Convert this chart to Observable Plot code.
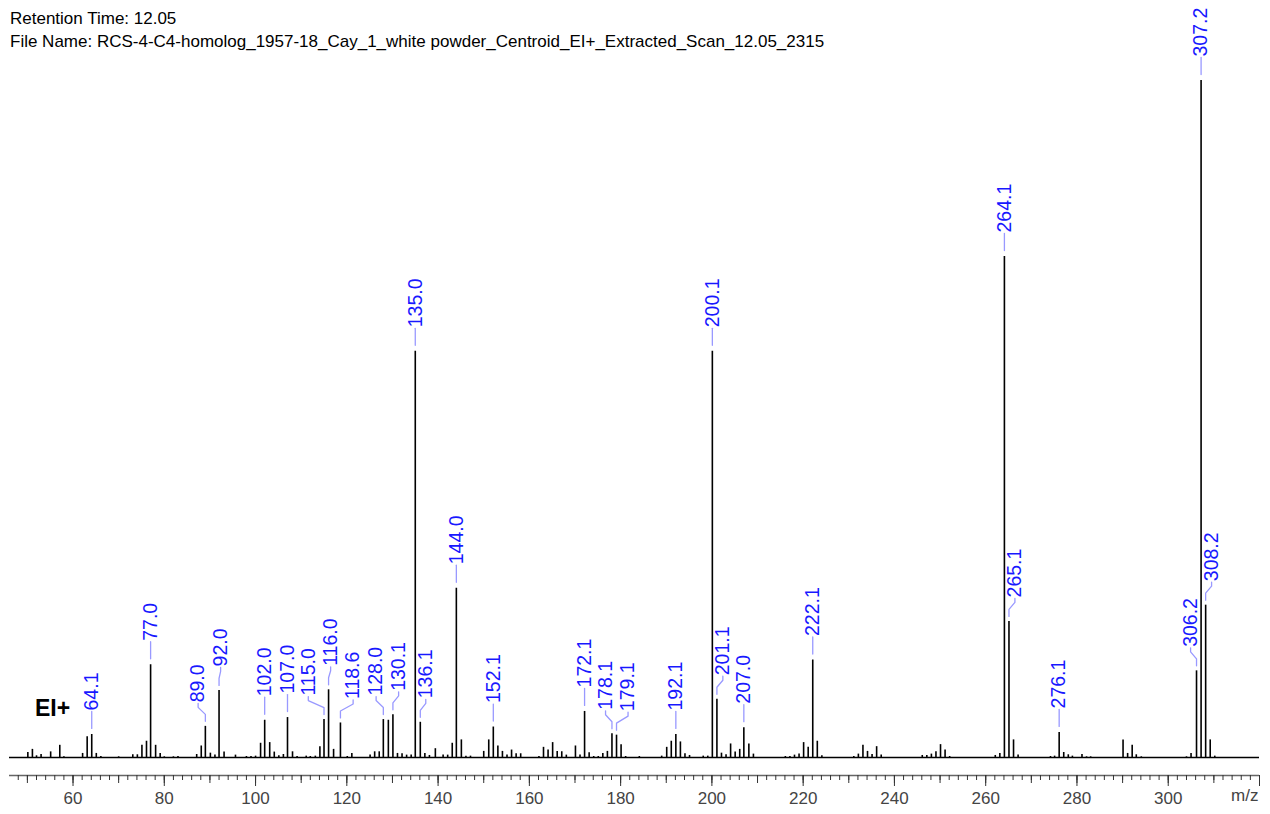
<!DOCTYPE html>
<html><head><meta charset="utf-8">
<script src="https://cdn.jsdelivr.net/npm/d3@7"></script>
<script src="https://cdn.jsdelivr.net/npm/@observablehq/plot@0.6"></script>
<style>
body{margin:0;background:#fff;font-family:Arial,"Liberation Sans",sans-serif;}
#wrap{position:relative;width:1270px;height:814px;overflow:hidden;}
#title{position:absolute;left:10px;top:7px;font-size:17px;line-height:23px;color:#000;white-space:nowrap;}
#ei{position:absolute;left:35px;top:697px;font-size:23px;line-height:23px;font-weight:bold;color:#000;}
#chart svg{display:block;}
</style></head><body>
<div id="wrap"><div id="chart"></div>
<div id="title">Retention Time: 12.05<br>File Name: RCS-4-C4-homolog_1957-18_Cay_1_white powder_Centroid_EI+_Extracted_Scan_12.05_2315</div>
<div id="ei">EI+</div></div>
<script>
// Labelled peaks (m/z, relative intensity %)
const labelMz  = [64.1, 77.0, 89.0, 92.0, 102.0, 107.0, 115.0, 116.0, 118.6, 128.0, 130.1, 135.0, 136.1, 144.0, 152.1, 172.1, 178.1, 179.1, 192.1, 200.1, 201.1, 207.0, 222.1, 264.1, 265.1, 276.1, 306.2, 307.2, 308.2];
const labelInt = [3.4, 13.7, 4.6, 9.9, 5.5, 5.9, 5.6, 10.0, 5.1, 5.6, 6.3, 60.0, 5.2, 25.0, 4.5, 6.8, 3.5, 3.3, 3.4, 60.0, 8.6, 4.4, 14.4, 74.0, 20.1, 3.7, 12.8, 100, 22.5];
// Unlabelled minor peaks
const minorMz  = [50.1, 51.1, 52.0, 53.0, 55.1, 57.1, 58.0, 62.1, 63.1, 65.1, 66.1, 70.0, 73.1, 74.1, 75.1, 76.1, 78.1, 79.1, 80.0, 82.0, 83.0, 87.1, 88.1, 90.1, 91.1, 93.1, 95.6, 98.0, 99.0, 100.0, 101.1, 103.1, 104.1, 105.1, 106.1, 108.1, 109.1, 111.1, 112.0, 113.1, 114.1, 117.1, 120.1, 121.1, 125.1, 126.1, 127.1, 129.1, 131.1, 132.1, 133.1, 134.1, 137.1, 138.1, 139.4, 141.1, 142.1, 143.1, 145.1, 146.1, 147.1, 150.0, 151.1, 153.1, 154.1, 155.1, 156.1, 157.1, 158.1, 162.1, 163.1, 164.1, 165.1, 166.1, 167.1, 168.1, 170.1, 171.1, 173.1, 174.1, 175.1, 176.1, 177.1, 180.1, 181.1, 184.1, 189.0, 190.1, 191.1, 193.1, 194.1, 195.1, 198.1, 199.1, 202.1, 203.1, 204.1, 205.1, 206.1, 208.1, 209.1, 216.1, 217.1, 218.1, 219.1, 220.1, 221.1, 223.1, 224.1, 231.1, 232.1, 233.1, 234.1, 235.1, 236.1, 237.1, 246.1, 247.1, 248.1, 249.1, 250.1, 251.1, 252.1, 262.1, 263.1, 266.1, 267.1, 274.2, 275.1, 277.1, 278.1, 279.0, 281.1, 282.1, 283.0, 290.1, 291.1, 292.1, 293.0, 294.1, 304.0, 305.0, 309.2, 310.2];
const minorInt = [0.74, 1.2, 0.25, 0.44, 0.83, 1.8, 0.1, 0.6, 3.05, 0.6, 0.15, 0.1, 0.4, 0.4, 1.8, 2.4, 1.8, 0.6, 0.1, 0.1, 0.15, 0.44, 1.7, 0.64, 0.35, 0.8, 0.35, 0.15, 0.15, 0.2, 2.1, 2.2, 0.8, 0.25, 0.44, 0.84, 0.15, 0.2, 0.15, 0.2, 1.6, 1.2, 0.15, 0.6, 0.35, 0.84, 0.84, 5.5, 0.6, 0.55, 0.35, 0.35, 0.6, 0.3, 1.3, 0.35, 0.35, 2.1, 2.6, 0.2, 0.2, 0.9, 2.6, 1.7, 0.9, 0.35, 1.1, 0.55, 0.55, 0.15, 1.5, 1.1, 2.2, 0.9, 0.85, 0.35, 1.7, 0.35, 0.7, 0.15, 0.15, 0.6, 0.9, 1.9, 0.15, 0.15, 0.2, 1.5, 2.4, 2.3, 0.55, 0.3, 0.2, 0.2, 0.64, 0.4, 2.0, 0.8, 1.2, 2.0, 0.5, 0.15, 0.15, 0.35, 0.5, 2.2, 1.5, 2.4, 0.25, 0.15, 0.5, 1.8, 0.9, 0.45, 1.6, 0.35, 0.3, 0.3, 0.5, 0.84, 1.9, 1.1, 0.15, 0.3, 0.6, 2.6, 0.35, 0.15, 0.2, 0.74, 0.4, 0.2, 0.45, 0.1, 0.1, 2.6, 0.6, 1.8, 0.4, 0.1, 0.1, 0.6, 2.6, 0.2];
// Axis ticks
const minorTicks = d3.range(48, 321, 2);
const midTicks   = d3.range(50, 321, 10);
const majorTicks = d3.range(60, 321, 20);
const axisTitle  = "m/z";

const W = 1270, H = 814;
const X_DOMAIN = [46.08, 320], X_RANGE = [9, 1259];
const Y_DOMAIN = [-2.66, 100], Y_RANGE = [775, 80];
const xs = d3.scaleLinear().domain(X_DOMAIN).range(X_RANGE);
const ys = d3.scaleLinear().domain(Y_DOMAIN).range(Y_RANGE);
const FS = 19.5;
const FONT = "Arial, 'Liberation Sans', sans-serif";

const labeled = labelMz.map((mz, i) => ({mz, int: labelInt[i], text: mz.toFixed(1)}));
const minor = minorMz.map((mz, i) => ({mz, int: minorInt[i]}));
const peaks = labeled.concat(minor);

// label layout (pixel space), then back to data space
const labels = labeled.map(p => {
  const ax = xs(p.mz), top = ys(p.int);
  const len = [...p.text].reduce((s, c) => s + (c === "." ? 0.278 : 0.556), 0) * FS;
  return {p, ax, lx: ax, top, y0: top - 24 - len, y1: top - 10, int: p.int};
});
const sticks = peaks.map(p => ({p, x: xs(p.mz), top: ys(p.int)}));
const CLEAR = 10.5, GAP = 22.5;
for (let it = 0; it < 500; it++) {
  for (const L of labels) L.lx += (L.ax - L.lx) * 0.05;
  const sorted = labels.slice().sort((a, b) => a.lx - b.lx);
  for (let i = 0; i < sorted.length; i++) for (let j = i + 1; j < sorted.length; j++) {
    const a = sorted[i], b = sorted[j];
    if (!(a.y0 < b.y1 && b.y0 < a.y1)) continue;
    const d = b.lx - a.lx;
    if (d < GAP) {
      const q = GAP - d, wa = (b.int * b.int) / (a.int * a.int + b.int * b.int);
      a.lx -= q * wa; b.lx += q * (1 - wa);
    }
  }
  for (const L of labels) for (const s of sticks) {
    if (s.p === L.p || s.top >= L.y1) continue;
    if (Math.abs(L.lx - s.x) < CLEAR) L.lx = s.x + (L.ax >= s.x ? CLEAR : -CLEAR);
  }
}
const textRows = [], leaderRows = [];
labels.forEach((L, k) => {
  const bent = Math.abs(L.lx - L.ax) >= 1.5;
  textRows.push({x: xs.invert(bent ? L.lx : L.ax), y: ys.invert(L.top - 24), text: L.p.text});
  const pts = bent
    ? [[L.ax, L.top - 5], [L.ax, L.top - 12], [L.lx, L.top - 19], [L.lx, L.top - 23]]
    : [[L.ax, L.top - 6], [L.ax, L.top - 23]];
  pts.forEach(([px, py]) => leaderRows.push({id: k, x: xs.invert(px), y: ys.invert(py)}));
});

const chart = Plot.plot({
  width: W, height: H,
  marginTop: 80, marginBottom: H - 775, marginLeft: 9, marginRight: 11,
  x: {domain: X_DOMAIN, range: X_RANGE, axis: null, label: null},
  y: {domain: Y_DOMAIN, range: Y_RANGE, axis: null, label: null},
  style: {fontFamily: FONT, color: "#333", background: "transparent"},
  marks: [
    Plot.ruleY([Y_DOMAIN[0]], {stroke: "#666", strokeWidth: 1.5}),
    Plot.axisX(minorTicks, {tickSize: 5, tickFormat: () => "", stroke: "#333", label: null}),
    Plot.axisX(midTicks, {tickSize: 8, tickFormat: () => "", stroke: "#333", label: null}),
    Plot.axisX(majorTicks, {tickSize: 11, tickPadding: 5, fontSize: 17, stroke: "#333", fill: "#444",
      tickFormat: d => d === 320 ? "" : String(d), label: null}),
    Plot.text([{x: X_DOMAIN[1], t: axisTitle}], {x: "x", text: "t", frameAnchor: "bottom", dy: 25, dx: -1,
      textAnchor: "end", fontSize: 17, fill: "#444"}),
    Plot.ruleY([0], {stroke: "#000", strokeWidth: 1.5}),
    Plot.ruleX(peaks, {x: "mz", y1: 0, y2: "int", stroke: "#000", strokeWidth: 1.6}),
    Plot.line(leaderRows, {x: "x", y: "y", z: "id", stroke: "#9999ff", strokeWidth: 1.3, curve: "linear"}),
    Plot.text(textRows, {x: "x", y: "y", text: "text", rotate: -90, textAnchor: "start", lineAnchor: "middle",
      fontSize: FS, fill: "#1818ff", fontFamily: FONT})
  ]
});
document.getElementById("chart").appendChild(chart);
</script>
</body></html>
